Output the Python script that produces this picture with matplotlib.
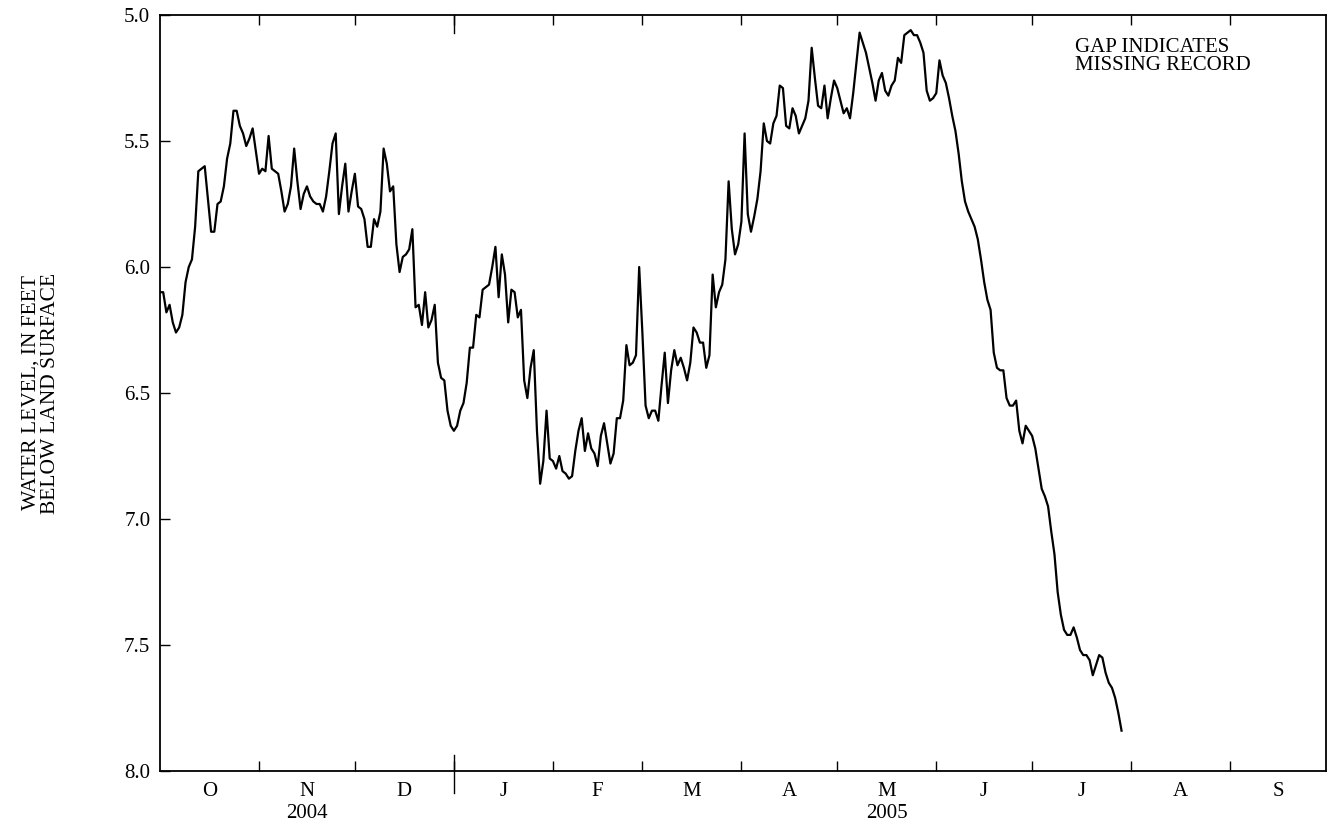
import numpy as np
import matplotlib
matplotlib.use('Agg')
import matplotlib.pyplot as plt

plt.rcParams['font.family'] = 'Liberation Serif'

# daily water level, feet below land surface, water year 2005 (record ends late July)
oct_04 = [6.10, 6.10, 6.18, 6.15, 6.22, 6.26, 6.24, 6.19, 6.06, 6.00, 5.97, 5.84, 5.62, 5.61, 5.60, 5.73,
          5.86, 5.86, 5.75, 5.74, 5.68, 5.57, 5.51, 5.38, 5.38, 5.44, 5.47, 5.52, 5.49, 5.45, 5.54]
nov_04 = [5.63, 5.61, 5.62, 5.48, 5.61, 5.62, 5.63, 5.70, 5.78, 5.75, 5.68, 5.53, 5.66, 5.77, 5.71,
          5.68, 5.72, 5.74, 5.75, 5.75, 5.78, 5.72, 5.62, 5.51, 5.47, 5.79, 5.68, 5.59, 5.78, 5.70]
dec_04 = [5.63, 5.76, 5.77, 5.81, 5.92, 5.92, 5.81, 5.84, 5.78, 5.53, 5.59, 5.70, 5.68, 5.91, 6.02, 5.96,
          5.95, 5.93, 5.85, 6.16, 6.15, 6.23, 6.10, 6.24, 6.21, 6.15, 6.38, 6.44, 6.45, 6.57, 6.63]
jan_05 = [6.65, 6.63, 6.57, 6.54, 6.46, 6.32, 6.32, 6.19, 6.20, 6.09, 6.08, 6.07, 6.00, 5.92, 6.12, 5.95,
          6.03, 6.22, 6.09, 6.10, 6.20, 6.17, 6.45, 6.52, 6.40, 6.33, 6.65, 6.86, 6.77, 6.57, 6.76]
feb_05 = [6.77, 6.80, 6.75, 6.81, 6.82, 6.84, 6.83, 6.73, 6.65, 6.60, 6.73, 6.66, 6.72, 6.74,
          6.79, 6.67, 6.62, 6.70, 6.78, 6.74, 6.60, 6.60, 6.53, 6.31, 6.39, 6.38, 6.35, 6.00]
mar_05 = [6.26, 6.55, 6.60, 6.57, 6.57, 6.61, 6.47, 6.34, 6.54, 6.41, 6.33, 6.39, 6.36, 6.40, 6.45, 6.38,
          6.24, 6.26, 6.30, 6.30, 6.40, 6.35, 6.03, 6.16, 6.10, 6.07, 5.97, 5.66, 5.85, 5.95, 5.91]
apr_05 = [5.82, 5.47, 5.79, 5.86, 5.80, 5.73, 5.62, 5.43, 5.50, 5.51, 5.43, 5.40, 5.28, 5.29, 5.44,
          5.45, 5.37, 5.40, 5.47, 5.44, 5.41, 5.34, 5.13, 5.25, 5.36, 5.37, 5.28, 5.41, 5.33, 5.26]
may_05 = [5.29, 5.34, 5.39, 5.37, 5.41, 5.31, 5.19, 5.07, 5.11, 5.15, 5.21, 5.27, 5.34, 5.26, 5.23, 5.30,
          5.32, 5.28, 5.26, 5.17, 5.19, 5.08, 5.07, 5.06, 5.08, 5.08, 5.11, 5.15, 5.30, 5.34, 5.33]
jun_05 = [5.31, 5.18, 5.24, 5.27, 5.33, 5.40, 5.46, 5.55, 5.66, 5.74, 5.78, 5.81, 5.84, 5.89, 5.97,
          6.06, 6.13, 6.17, 6.34, 6.40, 6.41, 6.41, 6.52, 6.55, 6.55, 6.53, 6.65, 6.70, 6.63, 6.65]
jul_05 = [6.67, 6.72, 6.80, 6.88, 6.91, 6.95, 7.05, 7.14, 7.29, 7.38, 7.44, 7.46, 7.46, 7.43, 7.47,
          7.52, 7.54, 7.54, 7.56, 7.62, 7.58, 7.54, 7.55, 7.61, 7.65, 7.67, 7.71, 7.77, 7.84]

month_labels = ['O', 'N', 'D', 'J', 'F', 'M', 'A', 'M', 'J', 'J', 'A', 'S']
month_days = [31, 30, 31, 31, 28, 31, 30, 31, 30, 31, 31, 30]
year_labels = ['2004', '2005']
year_label_month = [1, 7]   # under N and May

levels = np.array(oct_04 + nov_04 + dec_04 + jan_05 + feb_05 + mar_05 +
                  apr_05 + may_05 + jun_05 + jul_05)
days = np.arange(len(levels))

bounds = np.concatenate([[0], np.cumsum(month_days)])
centers = (bounds[:-1] + bounds[1:]) / 2

fig = plt.figure(figsize=(13.28, 8.27), dpi=100)
ax = fig.add_axes([160 / 1328, 56 / 827, 1166 / 1328, 756 / 827])

ax.plot(days, levels, color='black', lw=1.6)

ax.set_xlim(0, 365)
ax.set_ylim(8.0, 5.0)
ax.set_yticks(np.arange(5.0, 8.01, 0.5))
ax.set_yticklabels(['%.1f' % v for v in np.arange(5.0, 8.01, 0.5)])

# month boundaries as inward ticks, labels centred in each month
ax.set_xticks(bounds[1:-1])
ax.set_xticklabels([])
ax.set_xticks(centers, month_labels, minor=True)
ax.tick_params(axis='x', which='major', direction='in', length=7.2, width=1, top=True)
ax.tick_params(axis='x', which='minor', length=0, pad=8, labelsize=15)
ax.tick_params(axis='y', direction='in', length=7.2, width=1, pad=7, labelsize=15)

# longer tick at the calendar year change
jan1 = bounds[3]
ax.plot([jan1, jan1], [-0.029, 0.021], color='black', lw=1,
        transform=ax.get_xaxis_transform(), clip_on=False)
ax.plot([jan1, jan1], [1.0, 0.976], color='black', lw=1,
        transform=ax.get_xaxis_transform(), clip_on=False)

for lab, m in zip(year_labels, year_label_month):
    ax.text(centers[m], -0.043, lab, transform=ax.get_xaxis_transform(),
            ha='center', va='top', fontsize=15)

for s in ax.spines.values():
    s.set_linewidth(1.3)

ax.text(0.785, 0.969, 'GAP INDICATES\nMISSING RECORD', transform=ax.transAxes,
        ha='left', va='top', fontsize=15, linespacing=0.9)

fig.text(41 / 1328, 1 - 393 / 827, 'WATER LEVEL, IN FEET\nBELOW LAND SURFACE',
         rotation=90, ha='center', va='center', multialignment='center',
         fontsize=15.5, linespacing=1.0)

fig.savefig('out.png', dpi=100)
